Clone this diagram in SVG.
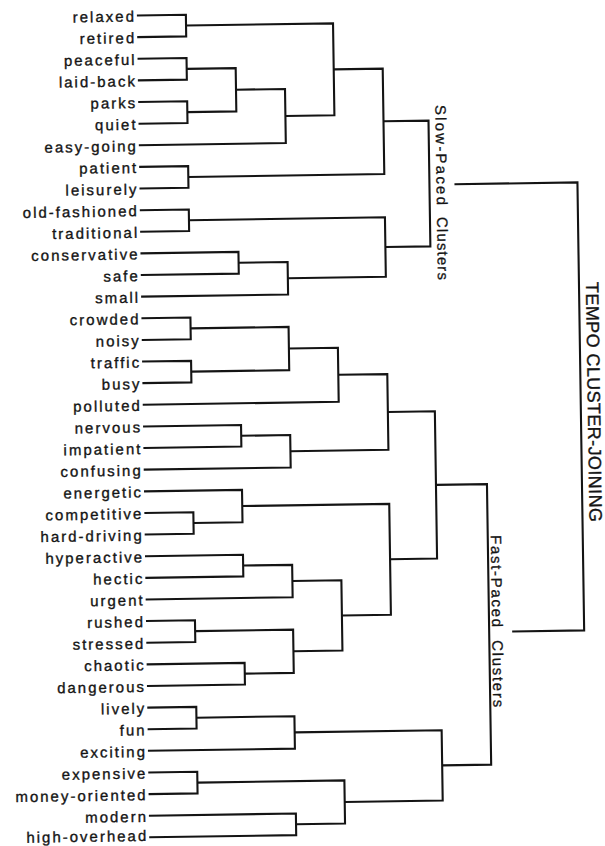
<svg xmlns="http://www.w3.org/2000/svg" width="605" height="846" viewBox="0 0 605 846">
<style>
.lbl{font-family:"Liberation Sans",Arial,sans-serif;font-size:15px;letter-spacing:2px;fill:#141414;stroke:#141414;stroke-width:0.35;text-anchor:end}
.grp{font-family:"Liberation Sans",Arial,sans-serif;font-size:15px;fill:#141414;stroke:#141414;stroke-width:0.3}
.ttl{font-family:"Liberation Sans",Arial,sans-serif;font-size:18px;fill:#141414;stroke:#141414;stroke-width:0.35}
.c path{fill:none;stroke:#141414;stroke-width:2.1;stroke-linejoin:miter}
</style>
<rect width="605" height="846" fill="#fff"/>
<g transform="rotate(-0.86 140 423)">
<g class="c" id="connectors">
<path d="M143 15.5H192V37.1H143"/>
<path d="M143 58.8H192V80.4H143"/>
<path d="M143 102H192V123.7H143"/>
<path d="M192 69.6H241V112.85H192"/>
<path d="M241 91.2H290V145.3H143"/>
<path d="M192 26.3H339V118.25H290"/>
<path d="M143 166.9H192V188.5H143"/>
<path d="M339 72.3H388V177.7H192"/>
<path d="M143 210.2H192V231.8H143"/>
<path d="M143 253.4H241V275.1H143"/>
<path d="M241 264.25H290V296.7H143"/>
<path d="M192 221H388V280.5H290"/>
<path d="M388 125H433V250.75H388"/>
<path d="M458 189H581V637H509"/>
<path d="M143 318.3H192V340H143"/>
<path d="M143 361.6H192V383.2H143"/>
<path d="M192 329.15H290V372.4H192"/>
<path d="M290 350.8H339V404.8H143"/>
<path d="M143 426.5H241V448.1H143"/>
<path d="M241 437.3H290V469.7H143"/>
<path d="M339 377.8H388V453.5H290"/>
<path d="M143 513H192V534.6H143"/>
<path d="M143 491.4H241V523.8H192"/>
<path d="M143 556.3H241V577.9H143"/>
<path d="M241 567.1H290V599.5H143"/>
<path d="M143 621.1H192V642.8H143"/>
<path d="M143 664.4H241V686H143"/>
<path d="M192 631.95H290V675.2H241"/>
<path d="M290 583.3H339V653.6H290"/>
<path d="M241 507.6H388V618.45H339"/>
<path d="M388 415.65H435V563H388"/>
<path d="M143 707.7H192V729.3H143"/>
<path d="M192 718.5H290V750.9H143"/>
<path d="M143 772.6H192V794.2H143"/>
<path d="M143 815.8H290V837.4H143"/>
<path d="M192 783.4H339V826.6H290"/>
<path d="M290 734.7H437V805H339"/>
<path d="M435 489.3H486V769.85H437"/>
</g>
<g id="n-relaxed"><text class="lbl" x="142" y="21.5">relaxed</text></g>
<g id="n-retired"><text class="lbl" x="142" y="43.1">retired</text></g>
<g id="n-peaceful"><text class="lbl" x="142" y="64.8">peaceful</text></g>
<g id="n-laid-back"><text class="lbl" x="142" y="86.4">laid-back</text></g>
<g id="n-parks"><text class="lbl" x="142" y="108">parks</text></g>
<g id="n-quiet"><text class="lbl" x="142" y="129.7">quiet</text></g>
<g id="n-easy-going"><text class="lbl" x="142" y="151.3">easy-going</text></g>
<g id="n-patient"><text class="lbl" x="142" y="172.9">patient</text></g>
<g id="n-leisurely"><text class="lbl" x="142" y="194.5">leisurely</text></g>
<g id="n-old-fashioned"><text class="lbl" x="142" y="216.2">old-fashioned</text></g>
<g id="n-traditional"><text class="lbl" x="142" y="237.8">traditional</text></g>
<g id="n-conservative"><text class="lbl" x="142" y="259.4">conservative</text></g>
<g id="n-safe"><text class="lbl" x="142" y="281.1">safe</text></g>
<g id="n-small"><text class="lbl" x="142" y="302.7">small</text></g>
<g id="n-crowded"><text class="lbl" x="142" y="324.3">crowded</text></g>
<g id="n-noisy"><text class="lbl" x="142" y="346">noisy</text></g>
<g id="n-traffic"><text class="lbl" x="142" y="367.6">traffic</text></g>
<g id="n-busy"><text class="lbl" x="142" y="389.2">busy</text></g>
<g id="n-polluted"><text class="lbl" x="142" y="410.8">polluted</text></g>
<g id="n-nervous"><text class="lbl" x="142" y="432.5">nervous</text></g>
<g id="n-impatient"><text class="lbl" x="142" y="454.1">impatient</text></g>
<g id="n-confusing"><text class="lbl" x="142" y="475.7">confusing</text></g>
<g id="n-energetic"><text class="lbl" x="142" y="497.4">energetic</text></g>
<g id="n-competitive"><text class="lbl" x="142" y="519">competitive</text></g>
<g id="n-hard-driving"><text class="lbl" x="142" y="540.6">hard-driving</text></g>
<g id="n-hyperactive"><text class="lbl" x="142" y="562.3">hyperactive</text></g>
<g id="n-hectic"><text class="lbl" x="142" y="583.9">hectic</text></g>
<g id="n-urgent"><text class="lbl" x="142" y="605.5">urgent</text></g>
<g id="n-rushed"><text class="lbl" x="142" y="627.1">rushed</text></g>
<g id="n-stressed"><text class="lbl" x="142" y="648.8">stressed</text></g>
<g id="n-chaotic"><text class="lbl" x="142" y="670.4">chaotic</text></g>
<g id="n-dangerous"><text class="lbl" x="142" y="692">dangerous</text></g>
<g id="n-lively"><text class="lbl" x="142" y="713.7">lively</text></g>
<g id="n-fun"><text class="lbl" x="142" y="735.3">fun</text></g>
<g id="n-exciting"><text class="lbl" x="142" y="756.9">exciting</text></g>
<g id="n-expensive"><text class="lbl" x="142" y="778.6">expensive</text></g>
<g id="n-money-oriented"><text class="lbl" x="142" y="800.2">money-oriented</text></g>
<g id="n-modern"><text class="lbl" x="142" y="821.8">modern</text></g>
<g id="n-high-overhead"><text class="lbl" x="142" y="841">high-overhead</text></g>
<g id="slow-label">
<text class="grp" transform="translate(440 109.5) rotate(90)" textLength="100" lengthAdjust="spacing">Slow-Paced</text>
<text class="grp" transform="translate(440 221.5) rotate(90)" textLength="63" lengthAdjust="spacing">Clusters</text>
</g>
<g id="fast-label">
<text class="grp" transform="translate(489 540.4) rotate(90)" textLength="92" lengthAdjust="spacing">Fast-Paced</text>
<text class="grp" transform="translate(489 645.4) rotate(90)" textLength="67" lengthAdjust="spacing">Clusters</text>
</g>
<g id="title">
<text class="ttl" transform="translate(588 288.8) rotate(90)" textLength="240" lengthAdjust="spacing">TEMPO CLUSTER-JOINING</text>
</g>
</g>
</svg>
